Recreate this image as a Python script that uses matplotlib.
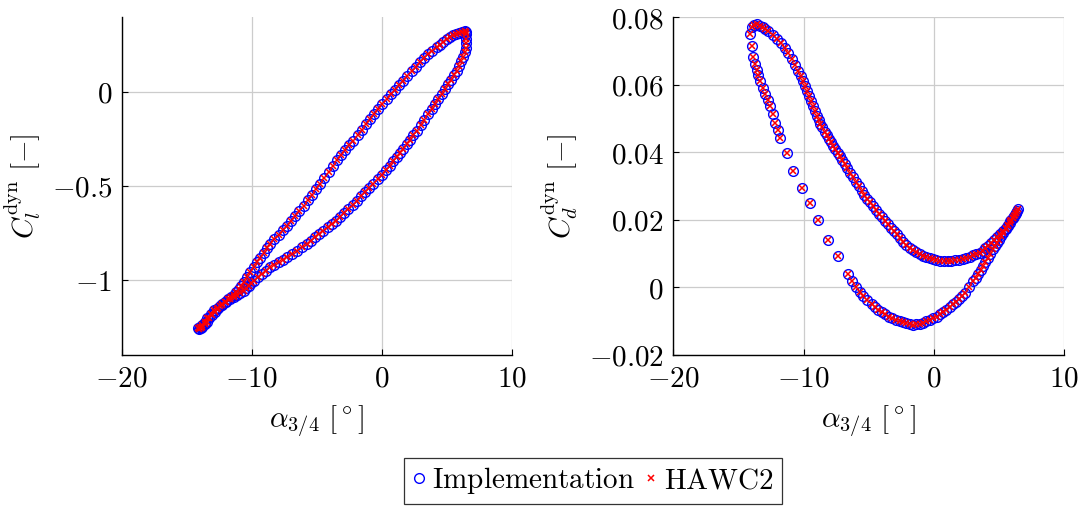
import matplotlib
matplotlib.use("Agg")
import matplotlib.pyplot as plt
from matplotlib.ticker import FixedLocator, FixedFormatter

plt.rcParams['mathtext.fontset'] = 'cm'
plt.rcParams['font.family'] = ['DejaVu Serif']

# ---- left panel: dynamic lift coefficient loop ----
cl_up_alpha = [-14.05, -13.93, -13.81, -13.63, -13.45, -13.25, -13.05, -12.86, -12.67, -12.46,
               -12.25, -12.02, -11.80, -11.60, -11.39, -11.20, -11.00, -10.81, -10.62, -10.36,
               -10.10, -9.85, -9.59, -9.34, -9.08, -8.83, -8.57, -8.25, -7.93, -7.61,
               -7.29, -6.97, -6.65, -6.33, -6.01, -5.69, -5.37, -5.05, -4.73, -4.41,
               -4.09, -3.77, -3.45, -3.13, -2.81, -2.50, -2.18, -1.86, -1.54, -1.22,
               -0.90, -0.58, -0.26, 0.06, 0.38, 0.70, 1.02, 1.34, 1.66, 1.98,
               2.30, 2.62, 2.94, 3.26, 3.58, 3.90, 4.22, 4.48, 4.73, 4.99,
               5.24, 5.47, 5.70, 5.92, 6.14]
cl_up = [-1.262, -1.257, -1.252, -1.237, -1.222, -1.204, -1.186, -1.170, -1.154, -1.141,
         -1.128, -1.116, -1.104, -1.094, -1.083, -1.067, -1.050, -1.031, -1.012, -0.986,
         -0.959, -0.933, -0.906, -0.882, -0.857, -0.833, -0.809, -0.785, -0.760, -0.736,
         -0.711, -0.685, -0.658, -0.632, -0.605, -0.576, -0.547, -0.518, -0.489, -0.458,
         -0.427, -0.396, -0.365, -0.338, -0.311, -0.285, -0.259, -0.230, -0.201, -0.173,
         -0.144, -0.117, -0.090, -0.064, -0.037, -0.013, 0.012, 0.036, 0.060, 0.085,
         0.110, 0.134, 0.158, 0.179, 0.200, 0.219, 0.238, 0.252, 0.266, 0.279,
         0.291, 0.300, 0.308, 0.315, 0.321]
cl_dn_alpha = [6.40, 6.46, 6.52, 6.51, 6.50, 6.45, 6.39, 6.26, 6.12, 5.94,
               5.76, 5.55, 5.33, 5.10, 4.86, 4.61, 4.36, 4.10, 3.84, 3.56,
               3.28, 2.99, 2.69, 2.43, 2.17, 1.92, 1.66, 1.41, 1.15, 0.90,
               0.64, 0.32, 0.00, -0.32, -0.64, -0.96, -1.28, -1.60, -1.92, -2.24,
               -2.56, -2.88, -3.20, -3.52, -3.84, -4.16, -4.48, -4.80, -5.12, -5.44,
               -5.76, -6.14, -6.52, -6.90, -7.29, -7.61, -7.93, -8.25, -8.57, -8.89,
               -9.21, -9.53, -9.85, -10.05, -10.24, -10.43, -10.62, -10.88, -11.13, -11.39,
               -11.64, -11.96, -12.28, -12.60, -12.92, -13.16, -13.40, -13.60, -13.81, -13.95,
               -14.10]
cl_dn = [0.325, 0.316, 0.306, 0.283, 0.260, 0.236, 0.211, 0.187, 0.162, 0.138,
         0.113, 0.089, 0.064, 0.040, 0.016, -0.011, -0.037, -0.064, -0.090, -0.119,
         -0.148, -0.177, -0.206, -0.231, -0.255, -0.279, -0.303, -0.326, -0.348, -0.370,
         -0.392, -0.417, -0.441, -0.465, -0.489, -0.512, -0.534, -0.556, -0.578, -0.601,
         -0.623, -0.645, -0.667, -0.685, -0.703, -0.721, -0.738, -0.756, -0.774, -0.792,
         -0.809, -0.827, -0.845, -0.863, -0.880, -0.893, -0.906, -0.920, -0.933, -0.951,
         -0.969, -0.987, -1.004, -1.018, -1.031, -1.044, -1.057, -1.068, -1.079, -1.090,
         -1.101, -1.117, -1.132, -1.148, -1.163, -1.183, -1.203, -1.223, -1.243, -1.251,
         -1.258]

# ---- right panel: dynamic drag coefficient loop ----
cd_up_alpha = [-13.95, -13.77, -13.59, -13.37, -13.15, -12.93, -12.70, -12.38, -12.05, -11.74,
               -11.42, -11.16, -10.90, -10.65, -10.40, -10.23, -10.05, -9.90, -9.75, -9.60,
               -9.45, -9.30, -9.15, -9.00, -8.85, -8.70, -8.55, -8.38, -8.20, -8.05,
               -7.90, -7.72, -7.55, -7.38, -7.20, -7.01, -6.82, -6.63, -6.44, -6.22,
               -5.99, -5.77, -5.54, -5.32, -5.10, -4.88, -4.65, -4.43, -4.20, -3.98,
               -3.75, -3.53, -3.30, -3.08, -2.86, -2.61, -2.35, -2.10, -1.84, -1.59,
               -1.33, -1.08, -0.82, -0.57, -0.31, -0.06, 0.20, 0.49, 0.78, 1.07,
               1.35, 1.64, 1.93, 2.22, 2.50, 2.76, 3.01, 3.27, 3.52, 3.75,
               3.97, 4.20, 4.42, 4.65, 4.87, 5.09, 5.31, 5.51, 5.70, 5.89,
               6.08, 6.19, 6.30, 6.38, 6.46]
cd_up = [0.0770, 0.0776, 0.0779, 0.0775, 0.0770, 0.0765, 0.0759, 0.0748, 0.0737, 0.0724,
         0.0710, 0.0694, 0.0677, 0.0659, 0.0641, 0.0627, 0.0612, 0.0597, 0.0582, 0.0566,
         0.0551, 0.0536, 0.0522, 0.0509, 0.0497, 0.0485, 0.0474, 0.0461, 0.0450, 0.0440,
         0.0430, 0.0420, 0.0409, 0.0399, 0.0389, 0.0377, 0.0365, 0.0353, 0.0340, 0.0326,
         0.0312, 0.0299, 0.0285, 0.0273, 0.0262, 0.0252, 0.0241, 0.0230, 0.0218, 0.0208,
         0.0197, 0.0187, 0.0176, 0.0167, 0.0157, 0.0147, 0.0136, 0.0127, 0.0118, 0.0111,
         0.0104, 0.0098, 0.0093, 0.0089, 0.0086, 0.0083, 0.0081, 0.0079, 0.0078, 0.0078,
         0.0078, 0.0080, 0.0082, 0.0085, 0.0088, 0.0091, 0.0095, 0.0099, 0.0103, 0.0109,
         0.0116, 0.0124, 0.0132, 0.0140, 0.0149, 0.0158, 0.0167, 0.0176, 0.0186, 0.0196,
         0.0206, 0.0213, 0.0220, 0.0225, 0.0231]
cd_dn_alpha = [-14.10, -13.97, -13.85, -13.72, -13.60, -13.47, -13.33, -13.14, -12.95, -12.76,
               -12.57, -12.38, -12.18, -11.99, -11.80, -11.29, -10.78, -10.14, -9.50, -8.87,
               -8.10, -7.33, -6.57, -6.29, -6.00, -5.70, -5.40, -5.09, -4.77, -4.51,
               -4.25, -4.00, -3.75, -3.47, -3.18, -2.90, -2.61, -2.36, -2.10, -1.84,
               -1.58, -1.33, -1.07, -0.82, -0.56, -0.31, -0.05, 0.21, 0.46, 0.72,
               0.97, 1.23, 1.48, 1.71, 1.93, 2.16, 2.38, 2.70, 3.01, 3.21,
               3.40, 3.59, 3.78, 3.97, 4.16, 4.35, 4.54, 4.71, 4.87, 5.03,
               5.19, 5.35, 5.51, 5.67, 5.82, 5.95, 6.08, 6.21, 6.34]
cd_dn = [0.0750, 0.0716, 0.0681, 0.0663, 0.0645, 0.0628, 0.0611, 0.0592, 0.0572, 0.0555,
         0.0537, 0.0513, 0.0488, 0.0466, 0.0444, 0.0399, 0.0345, 0.0295, 0.0251, 0.0201,
         0.0142, 0.0093, 0.0039, 0.0020, 0.0002, -0.0012, -0.0025, -0.0038, -0.0050, -0.0059,
         -0.0067, -0.0074, -0.0080, -0.0086, -0.0091, -0.0096, -0.0100, -0.0103, -0.0106, -0.0108,
         -0.0110, -0.0109, -0.0107, -0.0104, -0.0100, -0.0096, -0.0091, -0.0086, -0.0080, -0.0073,
         -0.0066, -0.0058, -0.0050, -0.0042, -0.0034, -0.0025, -0.0016, 0.0001, 0.0019, 0.0029,
         0.0040, 0.0051, 0.0063, 0.0075, 0.0088, 0.0100, 0.0113, 0.0123, 0.0133, 0.0142,
         0.0152, 0.0162, 0.0172, 0.0182, 0.0192, 0.0200, 0.0207, 0.0214, 0.0221]

x_ticks = [-20, -10, 0, 10]
x_ticklabels = ['$-20$', '$-10$', '$0$', '$10$']
cl_ticks = [-1, -0.5, 0]
cl_ticklabels = ['$-1$', '$-0.5$', '$0$']
cd_ticks = [-0.02, 0, 0.02, 0.04, 0.06, 0.08]
cd_ticklabels = ['$-0.02$', '$0$', '$0.02$', '$0.04$', '$0.06$', '$0.08$']

FS = 21
W, H = 1084, 507
fig = plt.figure(figsize=(W / 100, H / 100), dpi=100)
ax1 = fig.add_axes([121.7 / W, 1 - 355 / H, 390 / W, 338.3 / H])
ax2 = fig.add_axes([673.3 / W, 1 - 355 / H, 390.7 / W, 337.7 / H])

impl_kw = dict(ls='none', marker='o', mfc='none', mec='#0000ff', ms=7.0, mew=1.0)
hawc_kw = dict(ls='none', marker='x', color='#ff0000', ms=5.0, mew=1.1)


def style(ax, yt, ytl, ylim, ylabel):
    ax.set_xlim(-20, 10)
    ax.set_ylim(*ylim)
    ax.xaxis.set_major_locator(FixedLocator(x_ticks))
    ax.xaxis.set_major_formatter(FixedFormatter(x_ticklabels))
    ax.yaxis.set_major_locator(FixedLocator(yt))
    ax.yaxis.set_major_formatter(FixedFormatter(ytl))
    ax.grid(True, color='#cccccc', lw=0.9)
    ax.set_axisbelow(True)
    for s in ('top', 'right'):
        ax.spines[s].set_visible(False)
    for s in ('left', 'bottom'):
        ax.spines[s].set_linewidth(1.0)
    ax.tick_params(direction='in', length=4, width=0.8, labelsize=FS, pad=7,
                   colors='black', top=False, right=False)
    ax.set_xlabel(r'$\alpha_{3/4}\ [^\circ]$', fontsize=FS, labelpad=8)
    ax.set_ylabel(ylabel, fontsize=FS, labelpad=6)


ax1.plot(cl_up_alpha + cl_dn_alpha, cl_up + cl_dn, **impl_kw)
ax1.plot(cl_up_alpha + cl_dn_alpha, cl_up + cl_dn, **hawc_kw)
style(ax1, cl_ticks, cl_ticklabels, (-1.40, 0.40), r'$C_l^{\mathrm{dyn}}\ [-]$')

h1, = ax2.plot(cd_up_alpha + cd_dn_alpha, cd_up + cd_dn, **impl_kw)
h2, = ax2.plot(cd_up_alpha + cd_dn_alpha, cd_up + cd_dn, **hawc_kw)
style(ax2, cd_ticks, cd_ticklabels, (-0.02, 0.08), r'$C_d^{\mathrm{dyn}}\ [-]$')

leg = fig.legend([h1, h2], [r'$\mathrm{Implementation}$', r'$\mathrm{HAWC2}$'],
                 loc='center', bbox_to_anchor=(593 / W, 1 - 481 / H), ncol=2,
                 fontsize=FS, frameon=True, fancybox=False, edgecolor='black',
                 handlelength=0.5, handletextpad=0.2, columnspacing=0.3,
                 borderpad=0.25, borderaxespad=0)
leg.get_frame().set_linewidth(0.9)

fig.savefig('out.png', dpi=100)
